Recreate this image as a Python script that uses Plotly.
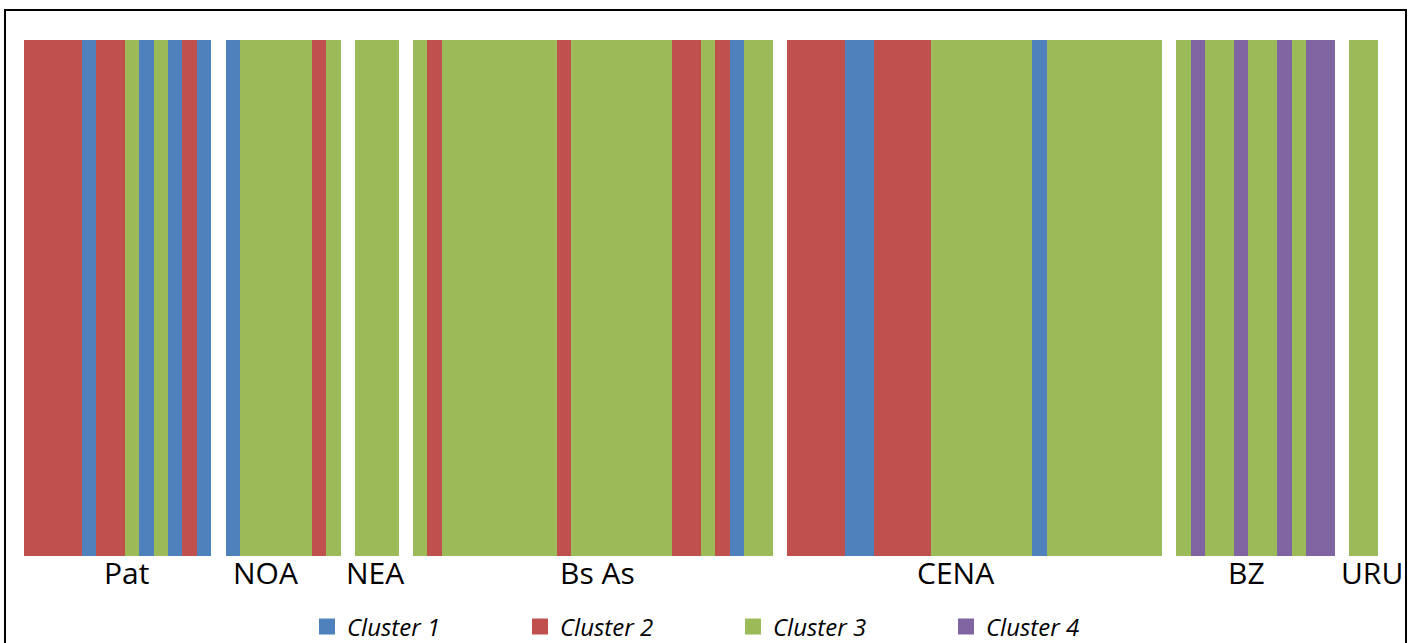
import plotly.graph_objects as go

# Cluster membership of each individual, by sampling region
groups = ["Pat", "NOA", "NEA", "Bs As", "CENA", "BZ", "URU"]
pat = [2, 2, 2, 2, 1, 2, 2, 3, 1, 3, 1, 2, 1]
noa = [1, 3, 3, 3, 3, 3, 2, 3]
nea = [3, 3, 3]
bs_as = [3, 2, 3, 3, 3, 3, 3, 3, 3, 3, 2, 3, 3, 3, 3, 3, 3, 3, 2, 2, 3, 2, 1, 3, 3]
cena = [2, 2, 2, 2, 1, 1, 2, 2, 2, 2, 3, 3, 3, 3, 3, 3, 3, 1, 3, 3, 3, 3, 3, 3, 3, 3]
bz = [3, 4, 3, 3, 4, 3, 3, 4, 3, 4, 4]
uru = [3, 3]
members = [pat, noa, nea, bs_as, cena, bz, uru]

# Group label positions, as offsets (in bars) from each group's centre
label_offsets = [0.6, -1.2, -0.15, 0.3, -1.35, -0.6, 0.6]

cluster_names = ["Cluster 1", "Cluster 2", "Cluster 3", "Cluster 4"]
cluster_colors = ["#4F81BD", "#C0504D", "#9BBB59", "#8064A2"]

# Lay individuals out one slot each, with one empty slot between groups
slot = 0
xs = {k: [] for k in range(1, 5)}
centres = []
for grp in members:
    start = slot
    for c in grp:
        xs[c].append(slot)
        slot += 1
    centres.append((start + slot - 1) / 2)
    slot += 1
n_slots = slot - 1

fig = go.Figure()
for k in range(1, 5):
    fig.add_trace(go.Bar(
        x=xs[k], y=[1] * len(xs[k]), width=1,
        marker=dict(color=cluster_colors[k - 1], line=dict(width=0)),
        name=cluster_names[k - 1], legendgroup=str(k), showlegend=False,
        hoverinfo="skip",
    ))
    # larger square swatch for the legend
    fig.add_trace(go.Scatter(
        x=[None], y=[None], mode="markers", name=cluster_names[k - 1],
        legendgroup=str(k),
        marker=dict(symbol="square", size=16, color=cluster_colors[k - 1]),
    ))

W, H = 1409, 643
ml, mr, mt, mb = 24, 31, 40, 87
pw, ph = W - ml - mr, H - mt - mb


def px_x(p):
    return (p - ml) / pw


def px_y(p):
    return (H - mb - p) / ph


for name, c, off in zip(groups, centres, label_offsets):
    fig.add_annotation(
        x=c + off, y=px_y(572), xref="x", yref="paper", text=name,
        showarrow=False, xanchor="center", yanchor="middle",
        font=dict(family="Open Sans", size=30, color="#000000"),
    )

fig.add_shape(
    type="rect", xref="paper", yref="paper",
    x0=px_x(5), x1=px_x(1406), y0=px_y(660), y1=px_y(10),
    line=dict(color="#000000", width=2), fillcolor="rgba(0,0,0,0)",
)

fig.update_layout(
    width=W, height=H,
    margin=dict(l=ml, r=mr, t=mt, b=mb),
    paper_bgcolor="white", plot_bgcolor="white",
    barmode="overlay", bargap=0,
    xaxis=dict(range=[-0.5, n_slots - 0.5], visible=False, fixedrange=True),
    yaxis=dict(range=[0, 1], visible=False, fixedrange=True),
    showlegend=True,
    legend=dict(
        orientation="h", xref="container", x=307 / W, xanchor="left",
        yref="container", y=(H - 627) / H, yanchor="middle",
        entrywidth=168, entrywidthmode="pixels",
        font=dict(family="Open Sans", size=24, color="#000000", style="italic"),
        bgcolor="rgba(0,0,0,0)",
    ),
)

fig.write_html("out.html")
